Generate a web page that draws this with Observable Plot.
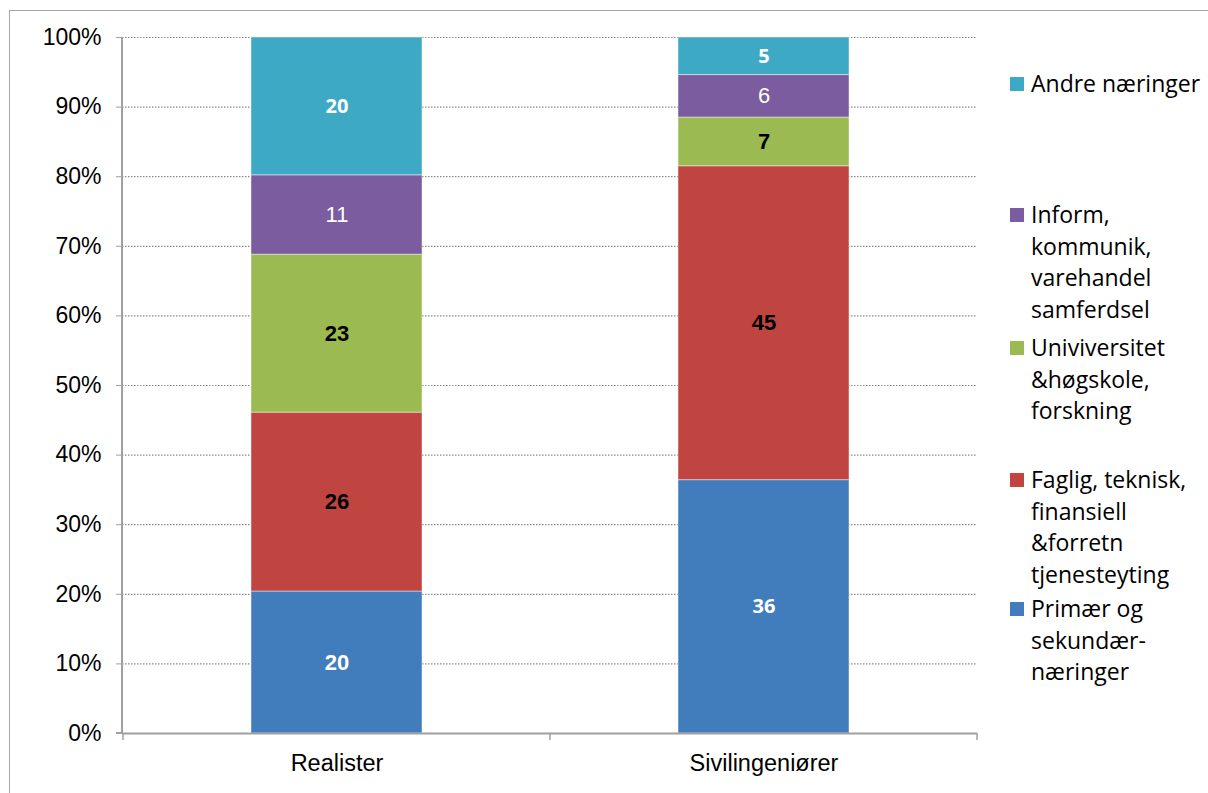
<!DOCTYPE html>
<html>
<head>
<meta charset="utf-8">
<script src="https://cdn.jsdelivr.net/npm/d3@7"></script>
<script src="https://cdn.jsdelivr.net/npm/@observablehq/plot@0.6"></script>
<style>
  html, body { margin: 0; padding: 0; background: #fff; overflow: hidden; }
  #wrap { position: relative; width: 1208px; height: 793px; overflow: hidden; }
  #border { position: absolute; left: 9px; top: 10px; width: 1400px; height: 1000px; border: 1.5px solid #a6a6a6; box-sizing: border-box; }
  #chart { position: absolute; left: 0; top: 0; }
  .leg { position: absolute; left: 1010px; font-family: "Open Sans", sans-serif; font-size: 23px; line-height: 31.5px; color: #000; white-space: pre-line; }
  .leg .sw { position: absolute; left: 0; top: 9px; width: 14px; height: 14px; }
  .leg .tx { margin-left: 21px; }
</style>
</head>
<body>
<div id="wrap">
  <div id="border"></div>
  <div id="chart"></div>
</div>
<script>
// ---- data ----
const categories = ["Realister", "Sivilingeniører"];
const series = [
  "Primær og sekundærnæringer",
  "Faglig, teknisk, finansiell &forretn tjenesteyting",
  "Univiversitet &høgskole, forskning",
  "Inform, kommunik, varehandel samferdsel",
  "Andre næringer"
];
const realisterValues = [20.4, 25.7, 22.7, 11.4, 19.8];
const sivilingeniorValues = [36.4, 45.1, 7.0, 6.1, 5.4];
const legendLabels = [
  "Primær og\nsekundær-\nnæringer",
  "Faglig, teknisk,\nfinansiell\n&forretn\ntjenesteyting",
  "Univiversitet\n&høgskole,\nforskning",
  "Inform,\nkommunik,\nvarehandel\nsamferdsel",
  "Andre næringer"
];
const yTickPercents = [0, 10, 20, 30, 40, 50, 60, 70, 80, 90, 100];

// ---- styling ----
const colors = ["#417DBD", "#C04541", "#9BBB52", "#7B5C9F", "#3EA9C5"];
// label style groups per [category][series index]
const labelGroups = {
  "Realister": ["arialBoldWhite", "arialBoldBlack", "arialBoldBlack", "arialWhite", "sansBoldWhite"],
  "Sivilingeniører": ["sansBoldWhite", "arialBoldBlack", "arialBoldBlack", "arialWhite", "sansBoldWhite"]
};
const groupStyle = {
  arialBoldWhite: {fill: "white", fontWeight: "bold", fontFamily: "Liberation Sans, Arial, sans-serif", fontSize: 22},
  arialBoldBlack: {fill: "black", fontWeight: "bold", fontFamily: "Liberation Sans, Arial, sans-serif", fontSize: 22},
  arialWhite: {fill: "white", fontWeight: "normal", fontFamily: "Liberation Sans, Arial, sans-serif", fontSize: 22},
  sansBoldWhite: {fill: "white", fontWeight: "bold", fontFamily: "Open Sans, sans-serif", fontSize: 20}
};

// ---- build rows ----
const valuesByCat = {"Realister": realisterValues, "Sivilingeniører": sivilingeniorValues};
const rows = [];
for (const c of categories) {
  series.forEach((s, i) => rows.push({category: c, series: s, idx: i, value: valuesByCat[c][i], group: labelGroups[c][i]}));
}

const stackOpts = {x: "category", y: "value", z: "series", offset: "normalize", order: null};

// every text mark stacks all rows; only its own group gets a label
const textMarks = Object.keys(groupStyle).map(g =>
  Plot.text(rows, Plot.stackY({
    ...stackOpts,
    text: d => d.group === g ? d3.format(".0f")(d.value) : null,
    ...groupStyle[g]
  }))
);

const chart = Plot.plot({
  width: 1208,
  height: 793,
  marginLeft: 122,
  marginRight: 231,
  marginTop: 37,
  marginBottom: 60,
  style: {fontFamily: "Liberation Sans, Arial, sans-serif", fontSize: "23px", color: "#000", background: "transparent"},
  x: {domain: categories, paddingInner: 0.6, paddingOuter: 0.3, label: null},
  y: {domain: [0, 1], label: null},
  color: {domain: series, range: colors},
  marks: [
    Plot.gridY(yTickPercents.map(t => t / 100), {stroke: "#8a8a8a", strokeOpacity: 1, strokeWidth: 1.2, strokeDasharray: "1.5,1.5"}),
    Plot.barY(rows, Plot.stackY({...stackOpts, fill: "series", stroke: "#ffffff", strokeOpacity: 0.45, strokeWidth: 1})),
    ...textMarks,
    Plot.axisY(yTickPercents.map(t => t / 100), {tickSize: 6, tickPadding: 15, stroke: "#a0a0a0", fill: "#000", tickFormat: d => Math.round(d * 100) + "%", fontSize: 23, label: null}),
    Plot.axisX({tickSize: 0, tickPadding: 21, fontSize: 23.5, label: null}),
    Plot.ruleY([0], {stroke: "#a0a0a0", strokeWidth: 2})
  ]
});
document.getElementById("chart").appendChild(chart);

// axis lines and between-category ticks from the scales
const xs = chart.scale("x");
const ys = chart.scale("y");
const svg = d3.select(chart);
const x0 = xs.range[0];
const y0 = ys.apply(0), y1 = ys.apply(1);
svg.append("line").attr("x1", x0).attr("x2", x0).attr("y1", y1).attr("y2", y0)
  .attr("stroke", "#a0a0a0").attr("stroke-width", 2);
const gap = (xs.step - xs.bandwidth) / 2;
const bounds = categories.map(c => xs.apply(c) - gap).concat([xs.apply(categories[categories.length - 1]) + xs.bandwidth + gap]);
svg.append("g").selectAll("line").data(bounds).join("line")
  .attr("x1", d => d).attr("x2", d => d).attr("y1", y0).attr("y2", y0 + 7)
  .attr("stroke", "#a0a0a0").attr("stroke-width", 1.5);
svg.append("line").attr("x1", x0 - 6).attr("x2", x0).attr("y1", y0).attr("y2", y0).attr("stroke", "#a0a0a0").attr("stroke-width", 2);

// legend (top to bottom = reverse stack order)
const legendTops = [593, 464, 332, 199, 68];
const wrap = document.getElementById("wrap");
series.forEach((s, i) => {
  const div = document.createElement("div");
  div.className = "leg";
  div.style.top = legendTops[i] + "px";
  const sw = document.createElement("div");
  sw.className = "sw";
  sw.style.background = colors[i];
  const tx = document.createElement("div");
  tx.className = "tx";
  tx.textContent = legendLabels[i];
  div.appendChild(sw);
  div.appendChild(tx);
  wrap.appendChild(div);
});
</script>
</body>
</html>
